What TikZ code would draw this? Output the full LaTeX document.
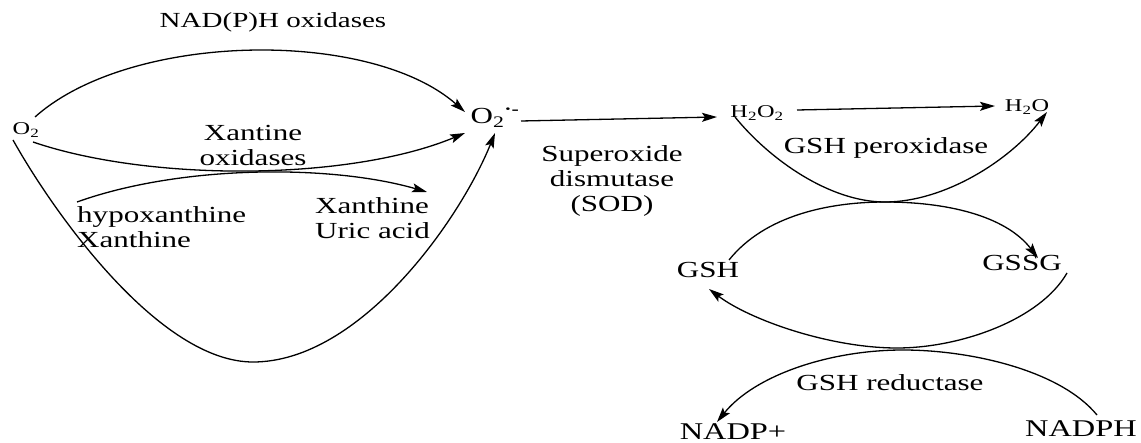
\documentclass[tikz,border=0pt]{standalone}
\usepackage{fontspec}
\setmainfont{Liberation Serif}[FakeStretch=1.35]
\usetikzlibrary{arrows.meta,calc}
\begin{document}
\begin{tikzpicture}[x=1pt,y=-1pt,
  lbl/.style={inner sep=0pt,font=\fontsize{23}{25}\selectfont},
  chem/.style={inner sep=0pt,font=\fontsize{18}{20}\selectfont},
  conn/.style={line width=1.3pt},
  arr/.style={conn,-{Stealth[length=15pt,width=9pt,inset=3pt]}}]
\useasboundingbox (0,0) rectangle (1141,443);
% nodes
\node[lbl,font=\fontsize{21.5}{24}\selectfont] (nadox) at (273,22) {NAD(P)H oxidases};
\node[chem] (o2) at (26,130) {O\textsubscript{2}};
\node[lbl] (sup) at (495,118) {O\textsubscript{2}\textsuperscript{\textbf{·-}}};
\node[lbl,align=center] (xo) at (253,146) {Xantine\\oxidases};
\node[lbl,align=left,anchor=west] (hypo) at (77,227) {hypoxanthine\\Xanthine};
\node[lbl,align=left,anchor=west] (xan) at (315,218) {Xanthine\\Uric acid};
\node[lbl,align=center] (sod) at (612,181) {Superoxide\\dismutase\\(SOD)};
\node[chem] (h2o2) at (757,113) {H\textsubscript{2}O\textsubscript{2}};
\node[chem] (h2o) at (1027,107) {H\textsubscript{2}O};
\node[lbl] (gpx) at (886,148) {GSH peroxidase};
\node[lbl] (gsh) at (708,270) {GSH};
\node[lbl] (gssg) at (1022,263) {GSSG};
\node[lbl] (gr) at (890,383) {GSH reductase};
\node[lbl,font=\fontsize{24}{26}\selectfont] (nadpp) at (733,432) {NADP+};
\node[lbl,font=\fontsize{24}{26}\selectfont] (nadph) at (1081,429) {NADPH};
% left part
\draw[arr] ($(o2.center)+(9,-13)$) .. controls (130,32) and (370,28) .. ($(sup.center)+(-30,-6)$);
\draw[arr] ($(o2.center)+(7,12)$) .. controls (150,182) and (350,181) .. ($(sup.center)+(-30,15)$);
\draw[arr] ($(hypo.west)+(0,-25)$) .. controls (180,165) and (330,164) .. ($(xan.west)+(112,-26)$);
\draw[arr] ($(o2.center)+(-13,10)$) .. controls (55,215) and (160,362) .. (253,362)
   .. controls (360,362) and (460,220) .. ($(sup.center)+(0,15)$);
% straight arrows
\draw[arr] ($(sup.center)+(26,3)$) -- ($(h2o2.center)+(-40,4)$);
\draw[arr] ($(h2o2.center)+(40,-3)$) -- ($(h2o.center)+(-32,-1)$);
% glutathione cycle
\draw[arr] ($(h2o2.center)+(-22,4)$) .. controls (770,160) and (830,202) .. (885,202)
   .. controls (945,202) and (1010,160) .. ($(h2o.center)+(20,5)$);
\draw[arr] ($(gsh.center)+(21,-10)$) .. controls (765,215) and (830,202) .. (885,202)
   .. controls (945,202) and (1005,215) .. ($(gssg.center)+(16,-5)$);
\draw[arr] ($(gssg.center)+(45,10)$) .. controls (1040,320) and (960,348) .. (897,348)
   .. controls (830,348) and (750,320) .. ($(gsh.center)+(1,19)$);
\draw[arr] ($(nadph.center)+(16,-14)$) .. controls (1060,370) and (970,350) .. (903,350)
   .. controls (830,350) and (755,375) .. ($(nadpp.center)+(-16,-10)$);
\end{tikzpicture}
\end{document}
